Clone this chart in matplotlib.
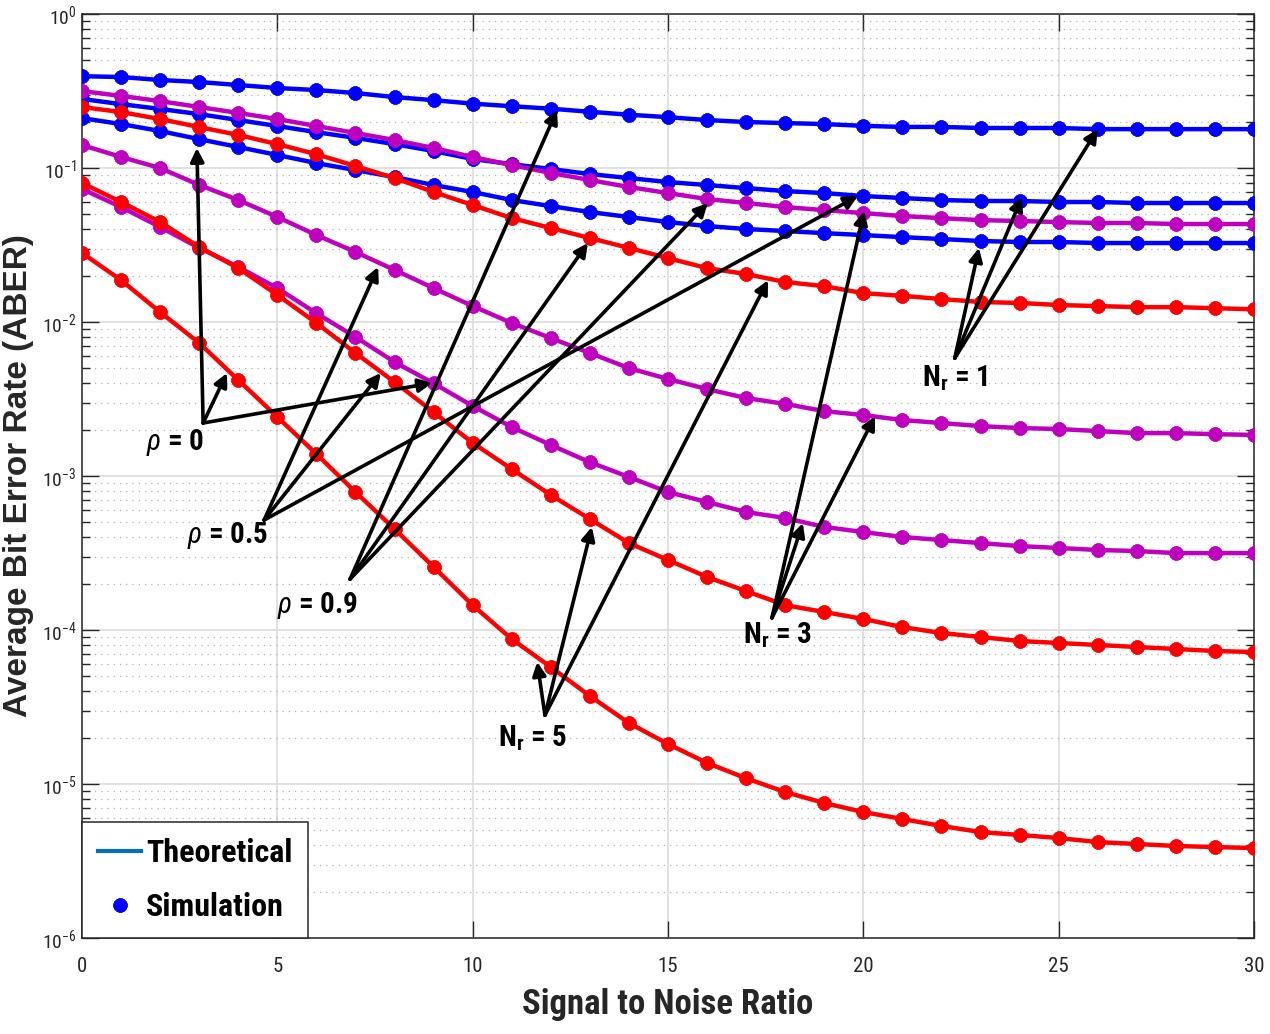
import numpy as np
import matplotlib
matplotlib.use("Agg")
import matplotlib.pyplot as plt
from matplotlib import font_manager as fm
from matplotlib.lines import Line2D
from matplotlib.ticker import LogLocator, LogFormatterMathtext, NullFormatter


def pick_narrow():
    prefs = ['Liberation Sans Narrow', 'Arial Narrow', 'Roboto Condensed',
             'Open Sans Condensed', 'DejaVu Sans Condensed']
    fonts = fm.fontManager.ttflist
    names = {f.name for f in fonts}
    for p in prefs:
        if p in names:
            return p, 'normal'
    for f in fonts:
        if f.stretch in ('condensed', 'semi-condensed', 'extra-condensed') or \
                'Condensed' in f.name or 'Narrow' in f.name:
            return f.name, f.stretch
    return 'Liberation Sans', 'normal'


NARROW, STRETCH = pick_narrow()
narrow = [NARROW, 'DejaVu Sans']
plt.rcParams['font.stretch'] = STRETCH
plt.rcParams['mathtext.fontset'] = 'custom'
plt.rcParams['mathtext.rm'] = NARROW
plt.rcParams['mathtext.it'] = NARROW + ':italic'
plt.rcParams['mathtext.bf'] = NARROW + ':bold'

snr = np.arange(0, 31)

# Nr = 1 (blue)
aber_nr1_rho0 = [0.211, 0.193, 0.174, 0.154, 0.137, 0.1215, 0.1077, 0.0970, 0.0874, 0.0776,
                 0.0699, 0.0620, 0.0566, 0.0518, 0.0481, 0.0446, 0.0420, 0.0402, 0.0390, 0.0378,
                 0.0367, 0.0356, 0.0346, 0.0336, 0.0331, 0.0331, 0.0326, 0.0326, 0.0326, 0.0326, 0.0326]
aber_nr1_rho05 = [0.281, 0.260, 0.242, 0.224, 0.205, 0.1875, 0.171, 0.157, 0.143, 0.129,
                  0.1145, 0.106, 0.0986, 0.0914, 0.0861, 0.0811, 0.0776, 0.0741, 0.0709, 0.0688,
                  0.0658, 0.0639, 0.0620, 0.0611, 0.0611, 0.0602, 0.0602, 0.0593, 0.0593, 0.0593, 0.0593]
aber_nr1_rho09 = [0.395, 0.390, 0.373, 0.362, 0.346, 0.331, 0.321, 0.307, 0.289, 0.276,
                  0.262, 0.252, 0.243, 0.232, 0.222, 0.214, 0.205, 0.199, 0.196, 0.193,
                  0.188, 0.185, 0.185, 0.182, 0.182, 0.182, 0.179, 0.179, 0.179, 0.179, 0.179]

# Nr = 3 (magenta)
aber_nr3_rho0 = [0.0731, 0.0558, 0.0414, 0.0303, 0.0228, 0.0166, 0.0114, 0.0080, 0.0055, 0.0040,
                 0.00285, 0.00208, 0.00159, 0.00123, 9.86e-4, 7.87e-4, 6.78e-4, 5.84e-4, 5.34e-4, 4.67e-4,
                 4.33e-4, 4.02e-4, 3.84e-4, 3.67e-4, 3.51e-4, 3.41e-4, 3.31e-4, 3.26e-4, 3.16e-4, 3.16e-4, 3.16e-4]
aber_nr3_rho05 = [0.141, 0.118, 0.100, 0.0776, 0.0620, 0.0481, 0.0367, 0.0285, 0.0218, 0.0166,
                  0.0127, 0.00986, 0.00787, 0.00629, 0.00502, 0.00427, 0.00367, 0.00321, 0.00294, 0.00264,
                  0.00249, 0.00231, 0.00221, 0.00211, 0.00205, 0.00202, 0.00196, 0.00190, 0.00190, 0.00187, 0.00185]
aber_nr3_rho09 = [0.316, 0.294, 0.272, 0.249, 0.228, 0.208, 0.1875, 0.169, 0.152, 0.135,
                  0.118, 0.1045, 0.0929, 0.0836, 0.0753, 0.0688, 0.0629, 0.0593, 0.0558, 0.0533,
                  0.0510, 0.0488, 0.0473, 0.0459, 0.0453, 0.0446, 0.0440, 0.0440, 0.0433, 0.0433, 0.0433]

# Nr = 5 (red)
aber_nr5_rho0 = [0.0281, 0.0187, 0.0116, 0.00731, 0.0042, 0.00242, 0.00139, 7.87e-4, 4.53e-4, 2.57e-4,
                 1.45e-4, 8.74e-5, 5.75e-5, 3.73e-5, 2.49e-5, 1.82e-5, 1.37e-5, 1.09e-5, 8.87e-6, 7.53e-6,
                 6.58e-6, 5.93e-6, 5.34e-6, 4.88e-6, 4.67e-6, 4.46e-6, 4.20e-6, 4.08e-6, 3.96e-6, 3.90e-6, 3.84e-6]
aber_nr5_rho05 = [0.0799, 0.0602, 0.0446, 0.0307, 0.0224, 0.0150, 0.00986, 0.00629, 0.00408, 0.00260,
                  0.00164, 0.00111, 7.53e-4, 5.26e-4, 3.67e-4, 2.85e-4, 2.21e-4, 1.79e-4, 1.45e-4, 1.31e-4,
                  1.18e-4, 1.045e-4, 9.57e-5, 9.01e-5, 8.49e-5, 8.24e-5, 8.0e-5, 7.76e-5, 7.53e-5, 7.31e-5, 7.2e-5]
aber_nr5_rho09 = [0.249, 0.231, 0.208, 0.1846, 0.164, 0.143, 0.123, 0.103, 0.0861, 0.0699,
                  0.0575, 0.0473, 0.0408, 0.0351, 0.0303, 0.0260, 0.0224, 0.0205, 0.0182, 0.0171,
                  0.0154, 0.0148, 0.0141, 0.0135, 0.0133, 0.0129, 0.0127, 0.0125, 0.0125, 0.0123, 0.0121]

curves = [
    (aber_nr1_rho09, 'blue'), (aber_nr1_rho05, 'blue'), (aber_nr1_rho0, 'blue'),
    (aber_nr3_rho09, '#BF00BF'), (aber_nr3_rho05, '#BF00BF'), (aber_nr3_rho0, '#BF00BF'),
    (aber_nr5_rho09, 'red'), (aber_nr5_rho05, 'red'), (aber_nr5_rho0, 'red'),
]

# annotations: label, label position, arrow tail, arrow heads (data coords)
labels = [
    (r'$\rho$ = 0', (2.38, 1.64e-3), (3.10, 2.21e-3), [(2.94, 0.135), (3.71, 4.67e-3), (8.96, 4.02e-3)]),
    (r'$\rho$ = 0.5', (3.74, 4.14e-4), (4.66, 5.18e-4), [(7.58, 0.0228), (7.65, 4.67e-3), (19.86, 0.0658)]),
    (r'$\rho$ = 0.9', (6.04, 1.45e-4), (6.86, 2.14e-4), [(12.16, 0.238), (12.95, 0.0326), (16.02, 0.0593)]),
    (r'$\mathbf{N_r}$ = 5', (11.54, 1.99e-5), (11.85, 2.8e-5), [(11.65, 6.2e-5), (13.05, 4.67e-4), (17.56, 0.0187)]),
    (r'$\mathbf{N_r}$ = 3', (17.81, 9.28e-5), (17.66, 1.2e-4), [(18.45, 4.95e-4), (20.02, 0.0526), (20.30, 2.45e-3)]),
    (r'$\mathbf{N_r}$ = 1', (22.34, 4.33e-3), (22.34, 5.83e-3), [(22.96, 0.0303), (24.06, 0.0648), (26.0, 0.179)]),
]

fig = plt.figure(figsize=(12.7, 10.34), dpi=100)
ax = fig.add_axes([0.0646, 0.0928, 0.9228, 0.8936])

for vals, col in curves:
    ax.semilogy(snr, vals, color=col, lw=3.2, marker=(8, 2, 0), ms=10, mew=3.2, zorder=3)

ax.set_xlim(0, 30)
ax.set_ylim(1e-6, 1)
ax.set_xticks([0, 5, 10, 15, 20, 25, 30])
ax.yaxis.set_major_locator(LogLocator(base=10, numticks=10))
ax.yaxis.set_minor_locator(LogLocator(base=10, subs=np.arange(2, 10), numticks=10))
ax.yaxis.set_major_formatter(LogFormatterMathtext())
ax.yaxis.set_minor_formatter(NullFormatter())

ax.grid(True, which='major', color='#dcdcdc', lw=1.2, ls='-')
ax.grid(True, which='minor', axis='y', color='#b0b0b0', lw=0.9, ls=(0, (1, 4)))
ax.set_axisbelow(True)

ax.tick_params(which='both', direction='in', top=True, right=True, colors='#262626')
ax.tick_params(which='major', length=12, width=1)
ax.tick_params(axis='x', which='major', pad=14, labelsize=15)
ax.tick_params(axis='y', which='major', pad=4, labelsize=14)
ax.tick_params(which='minor', length=6, width=1)
for lab in ax.get_xticklabels() + ax.get_yticklabels():
    lab.set_family(narrow)
    lab.set_stretch(STRETCH)
for sp in ax.spines.values():
    sp.set_color('#262626')
    sp.set_linewidth(1.1)

ax.set_xlabel('Signal to Noise Ratio', fontsize=25, fontweight='bold', family=narrow,
              stretch=STRETCH, color='#262626')
ax.xaxis.set_label_coords(0.5, -0.054)
ax.set_ylabel('Average Bit Error Rate (ABER)', fontsize=24, fontweight='heavy',
              family=['Liberation Sans', 'DejaVu Sans'], stretch='normal', color='#262626')
ax.yaxis.set_label_coords(-0.041, 0.5)

for text, tpos, tail, heads in labels:
    ax.text(tpos[0], tpos[1], text, fontsize=21, fontweight='bold', family=narrow,
            stretch=STRETCH, ha='center', va='center', color='black', zorder=6)
    for h in heads:
        ax.annotate('', xy=h, xytext=tail,
                    arrowprops=dict(arrowstyle='-|>', color='black', lw=2.6,
                                    mutation_scale=20, shrinkA=0, shrinkB=0),
                    zorder=5)

handles = [
    Line2D([], [], color='#0072BD', lw=3),
    Line2D([], [], color='blue', ls='none', marker=(8, 2, 0), ms=10, mew=3.2),
]
leg = ax.legend(handles, ['Theoretical', 'Simulation'], loc='lower left', borderaxespad=0,
                prop=fm.FontProperties(family=narrow, weight='bold', size=23, stretch=STRETCH),
                handlelength=1.35, handletextpad=0.15, labelspacing=0.75, borderpad=0.5,
                fancybox=False, framealpha=1)
leg.get_frame().set_edgecolor('#262626')
leg.get_frame().set_linewidth(1.1)

fig.savefig('out.png', dpi=100)
